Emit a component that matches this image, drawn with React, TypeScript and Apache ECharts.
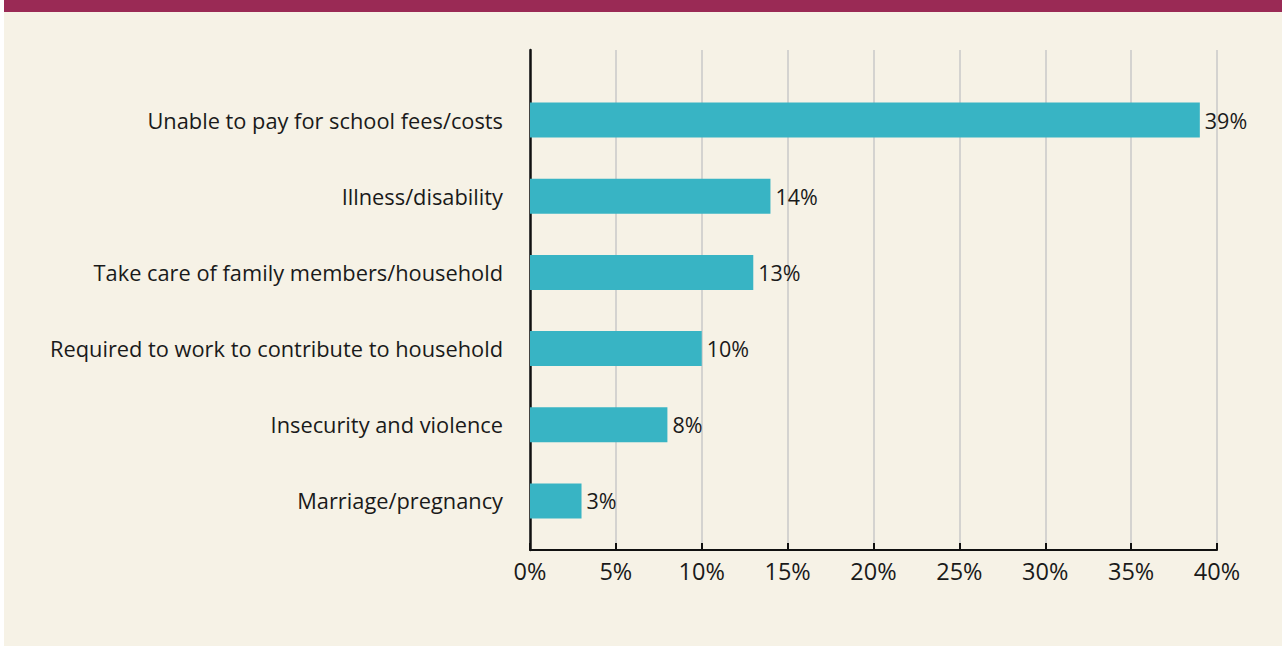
import React, { useEffect, useRef } from "react";
import * as echarts from "echarts";

const categories = [
  "Unable to pay for school fees/costs",
  "Illness/disability",
  "Take care of family members/household",
  "Required to work to contribute to household",
  "Insecurity and violence",
  "Marriage/pregnancy",
];
const shares = [39, 14, 13, 10, 8, 3];
const tickValues = [0, 5, 10, 15, 20, 25, 30, 35, 40];

const FONT = "'Open Sans', 'Noto Sans', sans-serif";
const TEXT = "#1a1a1a";

export default function App() {
  const ref = useRef<HTMLDivElement>(null);

  useEffect(() => {
    if (!ref.current) return;
    const chart = echarts.init(ref.current, undefined, { renderer: "svg" });
    const xMin = tickValues[0];
    const xMax = tickValues[tickValues.length - 1];
    chart.setOption({
      animation: false,
      backgroundColor: "#ffffff",
      textStyle: { fontFamily: FONT },
      graphic: [
        { type: "rect", z: -10, shape: { x: 4, y: 0, width: 1278, height: 646 }, style: { fill: "#f6f2e6" } },
        { type: "rect", z: -10, shape: { x: 4, y: 0, width: 1278, height: 12 }, style: { fill: "#9a2a55" } },
      ],
      grid: [
        { left: 530, width: 687, top: 50, height: 500 },
        { left: 530, width: 687, top: 82, height: 457 },
      ],
      xAxis: [
        {
          gridIndex: 0,
          type: "value",
          min: xMin,
          max: xMax,
          interval: 5,
          axisLine: { show: true, lineStyle: { color: "#111", width: 2 } },
          axisTick: { show: true, inside: true, length: 7, lineStyle: { color: "#111", width: 2 } },
          axisLabel: { formatter: "{value}%", fontSize: 23.5, color: TEXT, margin: 9, fontFamily: FONT },
          splitLine: { show: true, lineStyle: { color: "#c9c9c9", width: 1.5 } },
        },
        {
          gridIndex: 1,
          type: "value",
          min: xMin,
          max: xMax,
          show: false,
          splitLine: { show: false },
        },
      ],
      yAxis: [
        {
          gridIndex: 0,
          type: "category",
          data: [""],
          axisLine: { show: true, lineStyle: { color: "#111", width: 2.5 } },
          axisTick: { show: false },
          axisLabel: { show: false },
        },
        {
          gridIndex: 1,
          type: "category",
          data: categories,
          inverse: true,
          axisLine: { show: false },
          axisTick: { show: false },
          axisLabel: { fontSize: 21.8, color: TEXT, margin: 27, fontFamily: FONT },
        },
      ],
      series: [
        {
          type: "bar",
          xAxisIndex: 1,
          yAxisIndex: 1,
          data: shares,
          barWidth: 35,
          itemStyle: { color: "#38b4c4" },
          label: {
            show: true,
            position: "right",
            distance: 5,
            formatter: "{c}%",
            fontSize: 21.5,
            color: TEXT,
            fontFamily: FONT,
          },
        },
      ],
    });
    return () => chart.dispose();
  }, []);

  return (
    <div
      ref={ref}
      style={{ position: "fixed", left: 0, top: 0, width: 1282, height: 646 }}
    />
  );
}
